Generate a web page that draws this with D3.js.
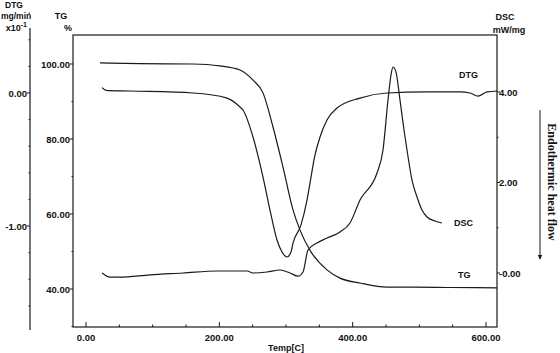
<!DOCTYPE html>
<html><head><meta charset="utf-8">
<script src="https://cdn.jsdelivr.net/npm/d3@7"></script>
<style>body{margin:0;background:#fff}svg{display:block}text{font-family:"Liberation Sans",Arial,sans-serif;font-weight:bold;fill:#111}</style>
</head><body>
<script>
// ---- data ----
const tgTemp = [21,81,160.5,201,231,250.5,265.5,280.5,295.5,310.5,321,337.5,361.5,381,411,451.5,490.5,546,616.5];
const tgVal  = [100.3,100.1,100,99.5,98.4,95.7,92.3,83.2,72.5,61.1,55.7,49.9,45.1,42.9,41.6,40.5,40.5,40.4,40.3];
const dtgTemp = [24,30,66,160.5,211.5,231,235.5,250.5,265.5,276,286.5,294,301.5,307.5,310.5,322.5,331.5,336,343.5,351,361.5,376.5,411,451.5,511.5,561,576,588,601.5,616.5];
const dtgVal  = [0.04,0.02,0.015,0,-0.038,-0.105,-0.128,-0.331,-0.632,-0.88,-1.105,-1.195,-1.233,-1.195,-1.128,-0.992,-0.805,-0.677,-0.466,-0.331,-0.203,-0.113,-0.038,0,0.008,0.008,0,-0.023,0.008,0.015];
const dscTemp = [24,36,51,96,145.5,196.5,241.5,250.5,271.5,291,306,318,325.5,333,346.5,361.5,381,396,411,436.5,445.5,453,457.5,460.5,465,471,477,481.5,489,496.5,504,511.5,523.5,534];
const dscVal  = [0,-0.09,-0.09,-0.04,0,0.044,0.044,0,0.022,0.066,0,-0.07,0.022,0.508,0.663,0.773,0.906,1.105,1.613,2.21,2.718,3.823,4.376,4.552,4.44,3.823,3.16,2.718,2.055,1.68,1.392,1.238,1.149,1.105];
const xTicks = [0,200,400,600];
const xTickLabels = ["0.00","200.00","400.00","600.00"];
const tgTicks = [40,60,80,100];
const tgTickLabels = ["40.00","60.00","80.00","100.00"];
const dtgTicks = [-1,0];
const dtgTickLabels = ["-1.00","0.00"];
const dscTicks = [0,2,4];
const dscTickLabels = ["-0.00","2.00","4.00"];
const seriesNames = ["TG","DTG","DSC"];

const W = 560, H = 353;
const svg = d3.select("body").append("svg").attr("width", W).attr("height", H);

const x = d3.scaleLinear().domain([0,600]).range([86,486]);
const yTG = d3.scaleLinear().domain([40,100]).range([289,64]);
const yDTG = d3.scaleLinear().domain([-1,0]).range([226,93]);
const yDSC = d3.scaleLinear().domain([0,4]).range([273,92]);

const L = 73, R = 497, T = 35, B = 327;
const ink = "#1a1a1a";

// frame
svg.append("rect").attr("x", L).attr("y", T).attr("width", R-L).attr("height", B-T)
  .attr("fill","none").attr("stroke", ink).attr("stroke-width", 1.2);

// bottom axis ticks (inside)
const xMinor = d3.range(0, 601, 50);
svg.append("g").selectAll("line").data(xMinor).join("line")
  .attr("x1", d=>x(d)).attr("x2", d=>x(d)).attr("y1", B).attr("y2", d=> xTicks.includes(d) ? B-5 : B-2.5)
  .attr("stroke", ink).attr("stroke-width", 1);
svg.append("g").selectAll("text").data(xTicks).join("text")
  .attr("x", d=>x(d)).attr("y", 341).attr("text-anchor","middle").attr("font-size", 9.5)
  .text((d,i)=>xTickLabels[i]);
svg.append("text").attr("x", 286).attr("y", 351).attr("text-anchor","middle").attr("font-size", 9).text("Temp[C]");

// TG axis (frame left)
const tgMinor = d3.range(30, 101, 10);
svg.append("g").selectAll("line").data(tgMinor).join("line")
  .attr("x1", L).attr("x2", d=> tgTicks.includes(d) ? L-3 : L-1.5).attr("y1", d=>yTG(d)).attr("y2", d=>yTG(d))
  .attr("stroke", ink).attr("stroke-width", 1);
svg.append("g").selectAll("text").data(tgTicks).join("text")
  .attr("x", L-3).attr("y", d=>yTG(d)+3.5).attr("text-anchor","end").attr("font-size", 9.5)
  .text((d,i)=>tgTickLabels[i]);
svg.append("text").attr("x", 61).attr("y", 19).attr("text-anchor","middle").attr("font-size", 9).text("TG");
svg.append("text").attr("x", 68).attr("y", 31).attr("text-anchor","middle").attr("font-size", 9).text("%");

// DTG axis (left outer)
const dx = 30;
svg.append("line").attr("x1", dx).attr("x2", dx).attr("y1", 28).attr("y2", 330).attr("stroke", ink).attr("stroke-width", 1.2);
const dtgMinor = d3.range(-8, 4).map(v => v/5);
svg.append("g").selectAll("line").data(dtgMinor).join("line")
  .attr("x1", dx).attr("x2", d=> Math.abs(d - Math.round(d))<1e-6 ? dx-3 : dx-1.5)
  .attr("y1", d=>yDTG(d)).attr("y2", d=>yDTG(d)).attr("stroke", ink).attr("stroke-width", 1);
svg.append("g").selectAll("text").data(dtgTicks).join("text")
  .attr("x", dx-3).attr("y", d=>yDTG(d)+3.5).attr("text-anchor","end").attr("font-size", 9.5)
  .text((d,i)=>dtgTickLabels[i]);
svg.append("text").attr("x", 14).attr("y", 8).attr("text-anchor","middle").attr("font-size", 8.5).text("DTG");
svg.append("text").attr("x", 1).attr("y", 19).attr("text-anchor","start").attr("font-size", 8.5).text("mg/min");
const xt = svg.append("text").attr("x", 27).attr("y", 31).attr("text-anchor","end").attr("font-size", 9);
xt.append("tspan").text("x10");
xt.append("tspan").attr("dy", -4).attr("font-size", 7).text("-1");

// DSC axis (frame right)
const dscMinor = d3.range(0, 5, 1);
svg.append("g").selectAll("line").data(dscMinor).join("line")
  .attr("x1", R).attr("x2", d=> dscTicks.includes(d) ? R+3 : R+1.5).attr("y1", d=>yDSC(d)).attr("y2", d=>yDSC(d))
  .attr("stroke", ink).attr("stroke-width", 1);
svg.append("g").selectAll("text").data(dscTicks).join("text")
  .attr("x", R+2).attr("y", d=>yDSC(d)+3.5).attr("text-anchor","start").attr("font-size", 9.5)
  .text((d,i)=>dscTickLabels[i]);
svg.append("text").attr("x", 505).attr("y", 20).attr("text-anchor","middle").attr("font-size", 9).text("DSC");
svg.append("text").attr("x", 509).attr("y", 33).attr("text-anchor","middle").attr("font-size", 9).text("mW/mg");

// Endothermic arrow + text
svg.append("defs").append("marker").attr("id","ah").attr("viewBox","0 0 10 10").attr("refX",9).attr("refY",5)
  .attr("markerWidth",5).attr("markerHeight",6).attr("orient","auto")
  .append("path").attr("d","M0,0 L10,5 L0,10 z").attr("fill", ink);
svg.append("line").attr("x1", 540).attr("x2", 540).attr("y1", 110).attr("y2", 259)
  .attr("stroke", ink).attr("stroke-width", 1).attr("marker-end","url(#ah)");
svg.append("text").attr("transform","translate(548,182) rotate(90)").attr("text-anchor","middle")
  .attr("font-size", 12).style("font-family",'"Liberation Serif","Times New Roman",serif').text("Endothermic heat flow");

// curves
const mk = (xs, ys, sy) => d3.line().x((d,i)=>x(xs[i])).y((d,i)=>sy(ys[i])).curve(d3.curveMonotoneX)(xs);
svg.append("path").attr("d", mk(tgTemp, tgVal, yTG)).attr("fill","none").attr("stroke", ink).attr("stroke-width", 1.2);
svg.append("path").attr("d", mk(dtgTemp, dtgVal, yDTG)).attr("fill","none").attr("stroke", ink).attr("stroke-width", 1.2);
svg.append("path").attr("d", mk(dscTemp, dscVal, yDSC)).attr("fill","none").attr("stroke", ink).attr("stroke-width", 1.2);

// curve labels
svg.append("text").attr("x", 458).attr("y", 278).attr("font-size", 9).text(seriesNames[0]);
svg.append("text").attr("x", 459).attr("y", 78).attr("font-size", 9).text(seriesNames[1]);
svg.append("text").attr("x", 454).attr("y", 226).attr("font-size", 9).text(seriesNames[2]);
</script>
</body></html>
